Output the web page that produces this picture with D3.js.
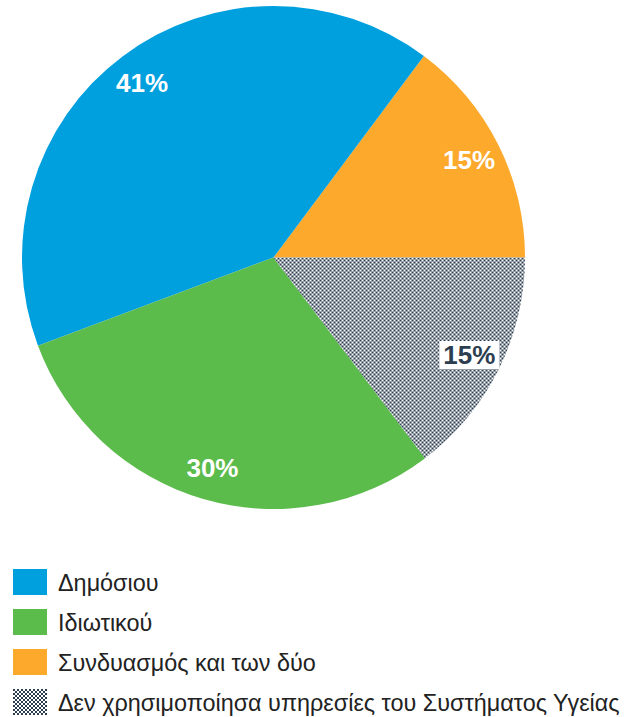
<!DOCTYPE html>
<html>
<head>
<meta charset="utf-8">
<script src="https://cdn.jsdelivr.net/npm/d3@7"></script>
<style>
  body { margin: 0; background: #fff; }
  svg { display: block; }
</style>
</head>
<body>
<svg></svg>
<script>
var width = 636;
var height = 717;

// data, in legend order
var categories = ["Δημόσιου", "Ιδιωτικού", "Συνδυασμός και των δύο", "Δεν χρησιμοποίησα υπηρεσίες του Συστήματος Υγείας"];
var values = [40.9, 29.6, 14.8, 14.7];
var colors = ["#00a0df", "#5bbb4b", "#fca92c", "url(#hatch)"];
// order the slices run counter-clockwise from 3 o'clock
var sliceOrder = [2, 0, 1, 3];

var cx = 273.5, cy = 257.5, radius = 251.5;

var svg = d3.select("svg")
            .attr("width", width)
            .attr("height", height);

var pattern = svg.append("defs")
    .append("pattern")
        .attr("id", "hatch")
        .attr("width", 4)
        .attr("height", 4)
        .attr("patternUnits", "userSpaceOnUse");
pattern.append("rect").attr("width", 4).attr("height", 4).attr("fill", "#fff");
pattern.append("rect").attr("width", 2).attr("height", 2).attr("fill", "#2c3e50");
pattern.append("rect").attr("x", 2).attr("y", 2).attr("width", 2).attr("height", 2).attr("fill", "#2c3e50");

var slices = sliceOrder.map(i => ({ name: categories[i], value: values[i], color: colors[i], idx: i }));

var arcs = d3.pie()
            .value(d => d.value)
            .sort(null)
            .startAngle(Math.PI / 2)
            .endAngle(Math.PI / 2 - 2 * Math.PI);

var path = d3.arc()
            .innerRadius(0)
            .outerRadius(radius);

var labelArc = d3.arc()
            .innerRadius(radius * 0.87)
            .outerRadius(radius * 0.87);

var chart = svg.append("g")
    .attr("transform", "translate(" + cx + "," + cy + ")");

var pieData = arcs(slices);

chart.selectAll(".arc")
    .data(pieData)
    .enter()
    .append("path")
        .classed("arc", true)
        .attr("d", path)
        .attr("fill", d => d.data.color);

var labels = chart.selectAll(".label")
    .data(pieData)
    .enter()
    .append("g")
        .classed("label", true)
        .attr("transform", d => "translate(" + labelArc.centroid(d) + ")");

labels.filter(d => d.data.idx === 3)
    .append("rect")
        .attr("x", -30)
        .attr("y", -14)
        .attr("width", 60)
        .attr("height", 28)
        .attr("fill", "#fff");

labels.append("text")
    .attr("text-anchor", "middle")
    .attr("dy", "0.36em")
    .style("font-family", "'Liberation Sans', Arial, sans-serif")
    .style("font-weight", "bold")
    .style("font-size", "26px")
    .attr("fill", d => d.data.idx === 3 ? "#2c3e50" : "#fff")
    .text(d => Math.round(d.data.value) + "%");

// legend
var legend = svg.append("g")
    .attr("transform", "translate(13,569)");

var rows = legend.selectAll(".row")
    .data(categories)
    .enter()
    .append("g")
        .classed("row", true)
        .attr("transform", (d, i) => "translate(0," + i * 40 + ")");

rows.append("rect")
    .attr("width", 34)
    .attr("height", 26)
    .attr("fill", (d, i) => colors[i]);

rows.append("text")
    .attr("x", 45)
    .attr("y", 22)
    .style("font-family", "'Liberation Sans', Arial, sans-serif")
    .style("font-size", "23.4px")
    .attr("fill", "#222")
    .text(d => d);
</script>
</body>
</html>
